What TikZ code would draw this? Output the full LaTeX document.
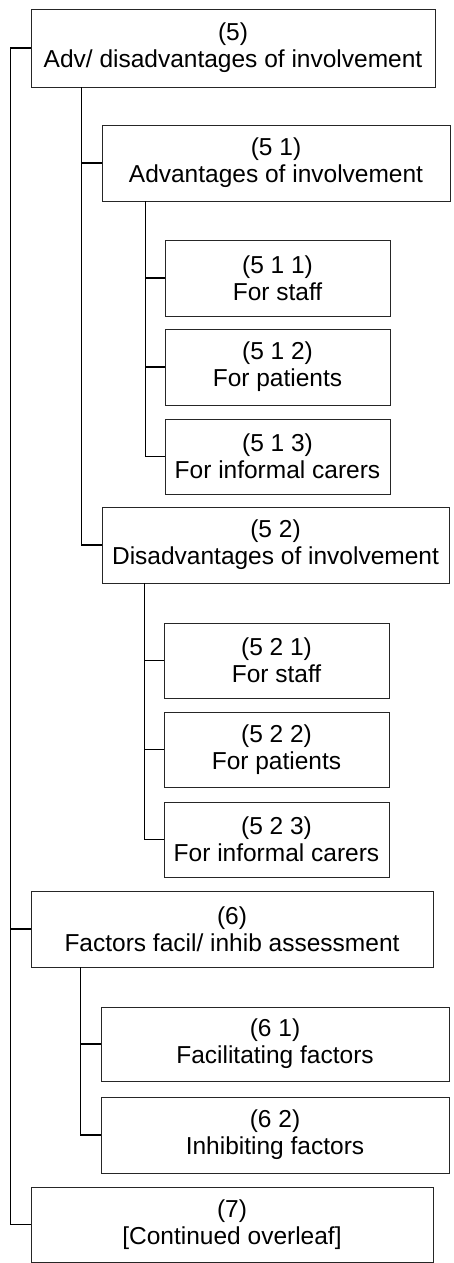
\documentclass[tikz,border=0pt]{standalone}
\usepackage{fontspec}
\setmainfont{Liberation Sans}
\begin{document}
\begin{tikzpicture}[x=1pt,y=-1pt,
  box/.style={draw=black!85,line width=0.8pt,inner sep=0pt,align=center,
    font=\fontsize{24.5}{27}\selectfont},
  conn/.style={draw=black,line width=1.4pt}]
\useasboundingbox (0,0) rectangle (453,1263);
\newcommand{\bx}[6]{%
  \node[box,minimum width={#4-#2},minimum height={#5-#3}] (#1) at ({(#2+#4)/2},{(#3+#5)/2}) {#6};}
\bx{n5}{31}{9}{435}{87}{(5)\\Adv/ disadvantages of involvement}
\bx{n51}{102}{125}{450}{201}{(5 1)\\Advantages of involvement}
\bx{n511}{165}{240}{390}{316}{(5 1 1)\\For staff}
\bx{n512}{165}{329}{390}{405}{(5 1 2)\\For patients}
\bx{n513}{165}{419}{390}{494}{(5 1 3)\\For informal carers}
\bx{n52}{102}{507}{449}{583}{(5 2)\\Disadvantages of involvement}
\bx{n521}{164}{623}{389}{698}{(5 2 1)\\For staff}
\bx{n522}{164}{712}{389}{787}{(5 2 2)\\For patients}
\bx{n523}{164}{802}{389}{877}{(5 2 3)\\For informal carers}
\bx{n6}{31}{891}{433}{967}{(6)\\Factors facil/ inhib assessment}
\bx{n61}{101}{1007}{449}{1081}{(6 1)\\Facilitating factors}
\bx{n62}{101}{1097}{449}{1173}{(6 2)\\Inhibiting factors}
\bx{n7}{31}{1187}{433}{1262}{(7)\\{[}Continued overleaf{]}}
% main trunk
\coordinate (t0) at ([xshift=-20pt]n5.west);
\draw[conn] (n5.west) -- (t0) |- (n7.west);
\draw[conn] (t0) |- (n6.west);
% level 2 under 5
\coordinate (t5) at ([xshift=51pt]n5.south west);
\draw[conn] (t5) |- (n51.west);
\draw[conn] (t5) |- (n52.west);
% under 5 1
\coordinate (t51) at ([xshift=44pt]n51.south west);
\draw[conn] (t51) |- (n511.west);
\draw[conn] (t51) |- (n512.west);
\draw[conn] (t51) |- (n513.west);
% under 5 2
\coordinate (t52) at ([xshift=43pt]n52.south west);
\draw[conn] (t52) |- (n521.west);
\draw[conn] (t52) |- (n522.west);
\draw[conn] (t52) |- (n523.west);
% under 6
\coordinate (t6) at ([xshift=50pt]n6.south west);
\draw[conn] (t6) |- (n61.west);
\draw[conn] (t6) |- (n62.west);
\end{tikzpicture}
\end{document}
